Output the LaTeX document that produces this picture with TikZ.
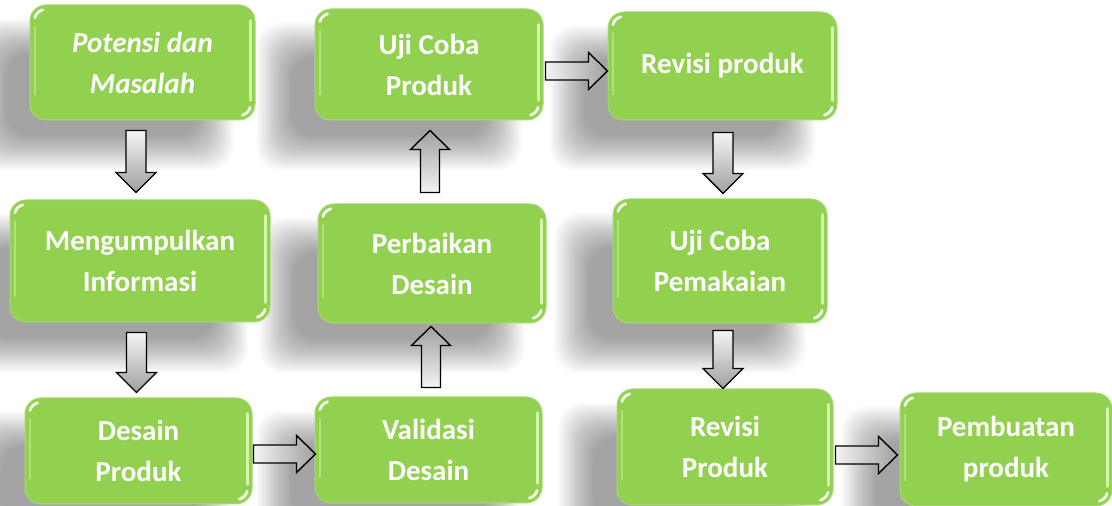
\documentclass[tikz,border=0pt]{standalone}
\usepackage{fontspec}
\setmainfont{Carlito}
\usetikzlibrary{calc,backgrounds}
\definecolor{boxgreen}{HTML}{92D050}
\definecolor{boxedge}{HTML}{A6DA72}
\definecolor{hlgreen}{HTML}{D6F7B0}
\definecolor{arrlight}{HTML}{F4F4F4}
\definecolor{arrdark}{HTML}{A0A0A0}
\tikzset{
  stepbox/.style={rectangle, rounded corners=16pt, fill=boxgreen, draw=boxedge, line width=1pt,
    text=white, align=center, inner sep=0pt,
    font=\fontsize{29}{41}\selectfont\bfseries},
  blockarrow/.style={draw=black, line width=1.4pt, line join=miter},
  shadowlayer/.style={fill=black, opacity=0.019, rounded corners=24pt},
  hlstripe/.style={draw=hlgreen, line width=2.5pt, line cap=round},
  hlspot/.style={draw=white, line width=2.8pt, line cap=round, opacity=0.9},
}
\newcommand{\boxshadow}[1]{%
  \foreach \o in {18,16.2,...,-17}{%
    \path[shadowlayer] ($(#1.south west)+(-40-\o,-32-\o)$) rectangle ($(#1.north east)+(-40+\o,-32+\o)$);
  }}
\newcommand{\hilite}[1]{%
  \draw[hlstripe] ($(#1.north east)+(-5,-16)$) -- ($(#1.south east)+(-5,20)$);
  \draw[hlstripe, draw=hlgreen!45!boxgreen, line width=2pt] ($(#1.north west)+(5,-22)$) -- ($(#1.south west)+(5,26)$);
  \draw[hlspot] ($(#1.south east)+(-16,16)+(-75:11)$) arc[start angle=-75, end angle=-15, radius=11];
  \draw[hlspot] ($(#1.north west)+(16,-16)+(105:11)$) arc[start angle=105, end angle=165, radius=11];
}
\newcommand{\blkdown}[2]{%
  \path[blockarrow, top color=arrlight, bottom color=arrdark] let \p1=#1, \p2=#2 in
    (\x1-10pt,\y1) -- (\x1+10pt,\y1) -- (\x1+10pt,\y2+20pt) -- (\x1+20pt,\y2+20pt) --
    (\x1,\y2) -- (\x1-20pt,\y2+20pt) -- (\x1-10pt,\y2+20pt) -- cycle;}
\newcommand{\blkup}[2]{%
  \path[blockarrow, top color=arrdark, bottom color=arrlight] let \p1=#1, \p2=#2 in
    (\x1-9.5pt,\y1) -- (\x1+9.5pt,\y1) -- (\x1+9.5pt,\y2-19pt) -- (\x1+19.5pt,\y2-19pt) --
    (\x1,\y2) -- (\x1-19.5pt,\y2-19pt) -- (\x1-9.5pt,\y2-19pt) -- cycle;}
\newcommand{\blkright}[2]{%
  \path[blockarrow, left color=arrlight, right color=arrdark] let \p1=#1, \p2=#2 in
    (\x1,\y1-9pt) -- (\x1,\y1+9pt) -- (\x2-19pt,\y1+9pt) -- (\x2-19pt,\y1+18.5pt) --
    (\x2,\y1) -- (\x2-19pt,\y1-18.5pt) -- (\x2-19pt,\y1-9pt) -- cycle;}
\begin{document}
\begin{tikzpicture}[x=1pt,y=1pt]
\useasboundingbox (0,0) rectangle (1112,506);
% boxes
\node[stepbox, minimum width=225pt, minimum height=115pt] (b1) at (142.5,443.5) {\itshape Potensi dan\\\itshape Masalah};
\node[stepbox, minimum width=260pt, minimum height=122pt] (b2) at (140,245) {Mengumpulkan\\Informasi};
\node[stepbox, minimum width=227pt, minimum height=106pt] (b3) at (138.5,55) {Desain\\Produk};
\node[stepbox, minimum width=227pt, minimum height=106pt] (b4) at (428.5,56) {Validasi\\Desain};
\node[stepbox, minimum width=228pt, minimum height=119pt] (b5) at (432,242.5) {Perbaikan\\Desain};
\node[stepbox, minimum width=228pt, minimum height=111pt] (b6) at (429,441.5) {Uji Coba\\Produk};
\node[stepbox, minimum width=229pt, minimum height=108pt] (b7) at (722.5,440) {Revisi produk};
\node[stepbox, minimum width=214pt, minimum height=124pt] (b8) at (720,245) {Uji Coba\\Pemakaian};
\node[stepbox, minimum width=216pt, minimum height=116pt] (b9) at (725,59) {Revisi\\Produk};
\node[stepbox, minimum width=212pt, minimum height=113pt] (b10) at (1006,56.5) {Pembuatan\\produk};
% background and shadows
\begin{scope}[on background layer]
\fill[white] (0,0) rectangle (1112,506);
\foreach \b in {b1,b2,b3,b4,b5,b6,b7,b8,b9,b10}{\boxshadow{\b}}
\end{scope}
% highlights
\foreach \b in {b1,b2,b3,b4,b5,b6,b7,b8,b9,b10}{\hilite{\b}}
% arrows
\blkdown{($(b1.south)+(-6.5,-10)$)}{($(b2.north)+(0,7)$)}
\blkdown{($(b2.south)+(-3.5,-10)$)}{($(b3.north)+(0,5)$)}
\blkright{($(b3.east)+(1,-3)$)}{($(b4.west)+(1,0)$)}
\blkup{($(b4.north)+(2.5,9)$)}{($(b5.south)+(0,-3)$)}
\blkup{($(b5.north)+(-2,11)$)}{($(b6.south)+(0,-10)$)}
\blkright{($(b6.east)+(2,-6.5)$)}{($(b7.west)+(0,0)$)}
\blkdown{($(b7.south)+(0.5,-12)$)}{($(b8.north)+(0,5)$)}
\blkdown{($(b8.south)+(3,-7)$)}{($(b9.north)+(0,0)$)}
\blkright{($(b9.east)+(2,-8)$)}{($(b10.west)+(-2,0)$)}
\end{tikzpicture}
\end{document}
